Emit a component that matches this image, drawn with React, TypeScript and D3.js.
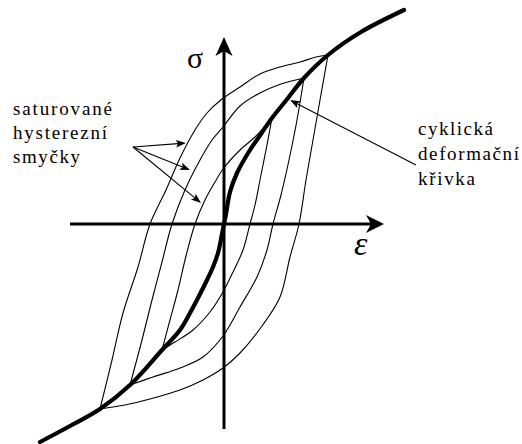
import React from "react";
import * as d3 from "d3";

// Strain ε (x) and stress σ (y) in normalised units; the origin sits at the axes' crossing.
type Pt = [number, number];

// Cyclic stress–strain curve, running through the tips of the saturated loops
const cyclicCurve: Pt[] = [
  [-1.84, -2.18], [-1.54, -2.02], [-1.24, -1.85], [-0.94, -1.61], [-0.62, -1.26],
  [-0.44, -1.06], [-0.34, -0.89], [-0.26, -0.74], [-0.17, -0.56], [-0.11, -0.43],
  [-0.06, -0.29], [-0.02, -0.1], [0, 0], [0.02, 0.1], [0.06, 0.32], [0.13, 0.51],
  [0.26, 0.74], [0.37, 0.9], [0.48, 1.06], [0.64, 1.26],
  [0.8, 1.46], [1.04, 1.69], [1.37, 1.92], [1.8, 2.14],
];

// Saturated hysteresis loops: loading (ascending) and unloading (descending) branches
const outerUp: Pt[] = [
  [-1.24, -1.85], [-1.12, -1.36], [-1.01, -0.89], [-0.86, -0.43], [-0.74, 0],
  [-0.58, 0.34], [-0.44, 0.66], [-0.29, 0.94], [-0.17, 1.11], [-0.02, 1.25],
  [0.16, 1.37], [0.36, 1.5], [0.56, 1.57], [0.76, 1.62], [0.92, 1.67], [1.04, 1.69],
];
const outerDown: Pt[] = [
  [1.04, 1.69], [0.96, 1.24], [0.89, 0.84], [0.82, 0.44], [0.75, 0],
  [0.66, -0.33], [0.56, -0.73], [0.38, -1.02], [0.16, -1.29], [-0.01, -1.44],
  [-0.21, -1.56], [-0.44, -1.66], [-0.74, -1.75], [-0.99, -1.81], [-1.24, -1.85],
];
const middleUp: Pt[] = [
  [-0.94, -1.61], [-0.82, -1.16], [-0.72, -0.76], [-0.62, -0.38], [-0.52, 0],
  [-0.39, 0.34], [-0.24, 0.64], [-0.12, 0.84], [-0.01, 0.97], [0.16, 1.18],
  [0.36, 1.31], [0.57, 1.4], [0.8, 1.46],
];
const middleDown: Pt[] = [
  [0.8, 1.46], [0.73, 1.04], [0.65, 0.64], [0.57, 0.29], [0.49, 0],
  [0.43, -0.26], [0.33, -0.53], [0.16, -0.83], [-0.01, -1.12], [-0.21, -1.33],
  [-0.44, -1.44], [-0.71, -1.53], [-0.94, -1.61],
];
const innerUp: Pt[] = [
  [-0.62, -1.26], [-0.54, -0.96], [-0.46, -0.66], [-0.38, -0.32], [-0.29, 0],
  [-0.19, 0.24], [-0.09, 0.42], [-0.01, 0.55], [0.16, 0.74], [0.31, 0.87], [0.48, 1.06],
];
const innerDown: Pt[] = [
  [0.48, 1.06], [0.42, 0.74], [0.36, 0.44], [0.31, 0.19], [0.26, 0],
  [0.19, -0.26], [0.09, -0.48], [-0.01, -0.68], [-0.14, -0.88], [-0.31, -1.06],
  [-0.49, -1.18], [-0.62, -1.26],
];
const loopBranches: Pt[][] = [outerUp, outerDown, middleUp, middleDown, innerUp, innerDown];

// Axis extents
const strainAxis: Pt[] = [[-1.54, 0], [1.6, 0]];
const stressAxis: Pt[] = [[0, -2.05], [0, 1.87]];

// Annotations
const loopLabel = ["saturované", "hysterezní", "smyčky"];
const loopLabelWidths = [99, 94, 67];
const loopLabelAt: Pt = [-2.11, 1.09];
const loopArrowFrom: Pt = [-0.91, 0.77];
const loopArrowTo: Pt[] = [[-0.38, 0.81], [-0.34, 0.54], [-0.23, 0.21]];

const curveLabel = ["cyklická", "deformační", "křivka"];
const curveLabelWidths = [75, 101, 57];
const curveLabelAt: Pt = [1.94, 0.89];
const curveArrowFrom: Pt = [1.92, 0.59];
const curveArrowTo: Pt = [0.66, 1.24];

const W = 522;
const H = 444;

const x = d3.scaleLinear().domain([-2.24, 2.98]).range([0, W]);
const y = d3.scaleLinear().domain([2.24, -2.2]).range([0, H]);

const smooth = d3
  .line<Pt>()
  .x((d) => x(d[0]))
  .y((d) => y(d[1]))
  .curve(d3.curveCatmullRom.alpha(0.5));

const straight = d3
  .line<Pt>()
  .x((d) => x(d[0]))
  .y((d) => y(d[1]));

// Filled arrowhead at pixel tip (tx, ty), pointing along angle a
function head(tx: number, ty: number, a: number, len: number, half: number, notch: number) {
  const ca = Math.cos(a);
  const sa = Math.sin(a);
  const bx = tx - len * ca;
  const by = ty - len * sa;
  const nx = tx - (len - notch) * ca;
  const ny = ty - (len - notch) * sa;
  return `M${tx},${ty}L${bx - half * sa},${by + half * ca}L${nx},${ny}L${bx + half * sa},${by - half * ca}Z`;
}

function arrowTo(from: Pt, to: Pt, len: number, half: number) {
  const fx = x(from[0]);
  const fy = y(from[1]);
  const tx = x(to[0]);
  const ty = y(to[1]);
  const a = Math.atan2(ty - fy, tx - fx);
  return { line: `M${fx},${fy}L${tx - (len - 2) * Math.cos(a)},${ty - (len - 2) * Math.sin(a)}`, head: head(tx, ty, a, len, half, 2) };
}

export default function App() {
  const vTop = stressAxis[1];
  const hEnd = strainAxis[1];
  const labelFont = "'Liberation Serif', 'Times New Roman', serif";
  return (
    <svg
      width={W}
      height={H}
      viewBox={`0 0 ${W} ${H}`}
      style={{ position: "fixed", left: 0, top: 0, background: "#fff" }}
    >
      <rect width={W} height={H} fill="#fff" />

      {/* hysteresis loops */}
      <g fill="none" stroke="#000" strokeWidth={1.1}>
        {loopBranches.map((b, i) => (
          <path key={i} d={smooth(b) ?? ""} />
        ))}
      </g>

      {/* axes */}
      <g stroke="#000" strokeWidth={3} fill="none">
        <path d={straight([strainAxis[0], [hEnd[0] - 0.1, 0]]) ?? ""} />
        <path d={straight([stressAxis[0], [0, vTop[1] - 0.12]]) ?? ""} />
      </g>
      <path d={head(x(vTop[0]), y(vTop[1]), -Math.PI / 2, 19, 8.5, 5)} fill="#000" />
      <path d={head(x(hEnd[0]), y(hEnd[1]), 0, 18, 9, 5)} fill="#000" />

      {/* cyclic stress–strain curve */}
      <path d={smooth(cyclicCurve) ?? ""} fill="none" stroke="#000" strokeWidth={4.2} strokeLinecap="round" />

      {/* axis symbols */}
      <text x={x(-0.37)} y={y(1.56)} fontFamily={labelFont} fontSize={30} fill="#000">
        σ
      </text>
      <text x={x(1.3)} y={y(-0.31)} fontFamily={labelFont} fontStyle="italic" fontSize={34} fill="#000">
        ε
      </text>

      {/* annotations */}
      <g fontFamily={labelFont} fontSize={19} fill="#000">
        {loopLabel.map((t, i) => (
          <text
            key={t}
            x={x(loopLabelAt[0])}
            y={y(loopLabelAt[1]) + i * 24}
            textLength={loopLabelWidths[i]}
            lengthAdjust="spacing"
          >
            {t}
          </text>
        ))}
        {curveLabel.map((t, i) => (
          <text
            key={t}
            x={x(curveLabelAt[0])}
            y={y(curveLabelAt[1]) + i * 25}
            textLength={curveLabelWidths[i]}
            lengthAdjust="spacing"
          >
            {t}
          </text>
        ))}
      </g>
      {loopArrowTo.map((to, i) => {
        const a = arrowTo(loopArrowFrom, to, 10, 3.8);
        return (
          <g key={i}>
            <path d={a.line} stroke="#000" strokeWidth={1.1} fill="none" />
            <path d={a.head} fill="#000" />
          </g>
        );
      })}
      {(() => {
        const a = arrowTo(curveArrowFrom, curveArrowTo, 10, 3.8);
        return (
          <g>
            <path d={a.line} stroke="#000" strokeWidth={1.1} fill="none" />
            <path d={a.head} fill="#000" />
          </g>
        );
      })()}
    </svg>
  );
}
